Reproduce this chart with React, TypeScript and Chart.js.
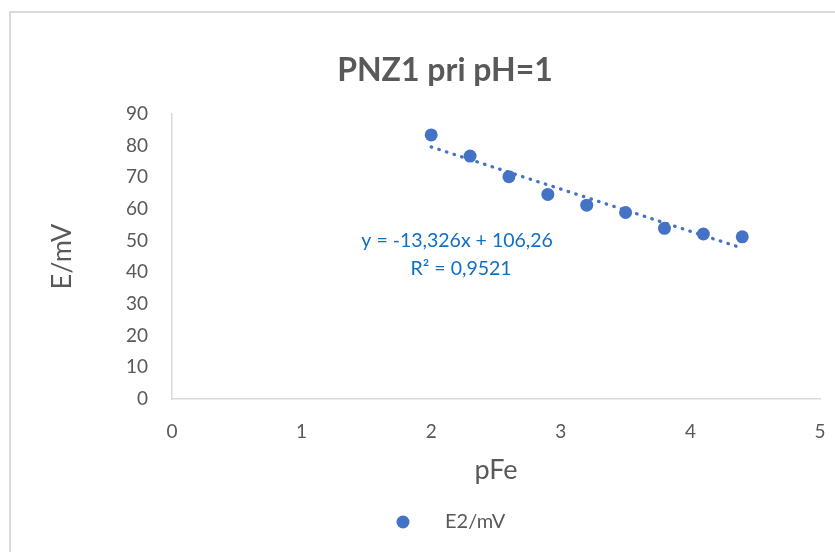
import React, { useEffect, useRef } from "react";
import { Chart, registerables } from "chart.js";

Chart.register(...registerables);

// ---- data ----
const chartTitle = "PNZ1 pri pH=1";
const seriesName = "E2/mV";
const xAxisTitle = "pFe";
const yAxisTitle = "E/mV";
const pFe = [2.0, 2.3, 2.6, 2.9, 3.2, 3.5, 3.8, 4.1, 4.4];
const E2 = [83.4, 76.7, 70.2, 64.6, 61.2, 58.9, 53.9, 52.1, 51.2];
const trendX = [2.0, 4.4];
const trendY = [79.61, 47.63];
const equationLines = ["y = -13,326x + 106,26", "R² = 0,9521"];
const xMin = 0;
const xMax = 5;
const xStep = 1;
const yMin = 0;
const yMax = 90;
const yStep = 10;

// label anchor (data coordinates) for the trendline equation
const eqAnchor = { x: 2.2, y: 50 };

const W = 868;
const H = 545;
const FONT = "Lato, 'Open Sans', 'DejaVu Sans', sans-serif";
const TEXT = "#595959";
const BLUE = "#4472C4";
const EQ_BLUE = "#0F6FC6";

const titlePlugin = {
  id: "centeredTitle",
  afterDraw(chart: any) {
    const { ctx } = chart;
    ctx.save();
    ctx.font = `bold 32px ${FONT}`;
    ctx.fillStyle = TEXT;
    ctx.textAlign = "center";
    ctx.textBaseline = "middle";
    ctx.fillText(chartTitle, chart.width / 2, 58);
    ctx.restore();
  },
};

const equationPlugin = {
  id: "equationLabel",
  afterDatasetsDraw(chart: any) {
    const { ctx, scales } = chart;
    const cx = scales.x.getPixelForValue(eqAnchor.x);
    const cy = scales.y.getPixelForValue(eqAnchor.y);
    ctx.save();
    ctx.font = `19.5px ${FONT}`;
    ctx.fillStyle = EQ_BLUE;
    ctx.textAlign = "center";
    ctx.textBaseline = "middle";
    ctx.fillText(equationLines[0], cx, cy);
    ctx.fillText(equationLines[1], cx + 4, cy + 28);
    ctx.restore();
  },
};

const legendPlugin = {
  id: "bottomLegend",
  afterDraw(chart: any) {
    const { ctx } = chart;
    const mid = chart.width / 2;
    const y = 509;
    ctx.save();
    ctx.fillStyle = BLUE;
    ctx.beginPath();
    ctx.arc(mid - 42, y, 6.5, 0, Math.PI * 2);
    ctx.fill();
    ctx.font = `20px ${FONT}`;
    ctx.fillStyle = TEXT;
    ctx.textAlign = "left";
    ctx.textBaseline = "middle";
    ctx.fillText(seriesName, mid, y);
    ctx.restore();
  },
};

export default function App() {
  const canvasRef = useRef<HTMLCanvasElement | null>(null);

  useEffect(() => {
    const canvas = canvasRef.current;
    if (!canvas) return;
    const chart = new Chart(canvas, {
      type: "scatter",
      data: {
        datasets: [
          {
            type: "line",
            label: "trend",
            data: trendX.map((x, i) => ({ x, y: trendY[i] })),
            borderColor: BLUE,
            borderWidth: 3.3,
            borderDash: [0.5, 7.5],
            borderCapStyle: "round",
            pointRadius: 0,
            fill: false,
            order: 2,
          } as any,
          {
            label: seriesName,
            data: pFe.map((x, i) => ({ x, y: E2[i] })),
            backgroundColor: BLUE,
            borderColor: BLUE,
            borderWidth: 0,
            pointRadius: 6.5,
            pointHoverRadius: 6.5,
            order: 1,
          },
        ],
      },
      options: {
        responsive: false,
        animation: false,
        devicePixelRatio: 1,
        layout: { padding: { left: 0, right: 59, top: 101, bottom: 0 } },
        plugins: {
          legend: { display: false },
          tooltip: { enabled: false },
          title: { display: false },
        },
        scales: {
          x: {
            type: "linear",
            min: xMin,
            max: xMax,
            grid: { display: false, drawTicks: false },
            border: { display: true, color: "#d9d9d9", width: 1.5 },
            ticks: {
              stepSize: xStep,
              color: TEXT,
              font: { family: FONT, size: 19 },
              padding: 21,
            },
            title: {
              display: true,
              text: xAxisTitle,
              color: TEXT,
              font: { family: FONT, size: 27 },
              padding: 72,
            },
            afterFit(scale: any) {
              scale.height = 159;
            },
          },
          y: {
            type: "linear",
            min: yMin,
            max: yMax,
            grid: { display: false, drawTicks: false },
            border: { display: true, color: "#d9d9d9", width: 1.5 },
            ticks: {
              stepSize: yStep,
              color: TEXT,
              font: { family: FONT, size: 19 },
              padding: 24,
            },
            title: {
              display: true,
              text: yAxisTitle,
              color: TEXT,
              font: { family: FONT, size: 27 },
              padding: 35,
            },
            afterFit(scale: any) {
              scale.width = 161;
            },
          },
        },
      },
      plugins: [titlePlugin, equationPlugin, legendPlugin],
    });
    return () => chart.destroy();
  }, []);

  return (
    <div
      style={{
        position: "absolute",
        left: 0,
        top: 0,
        width: 835,
        height: 552,
        overflow: "hidden",
        background: "#ffffff",
      }}
    >
      <div
        style={{
          position: "absolute",
          left: 9,
          top: 11,
          width: W,
          height: H,
          border: "2px solid #d9d9d9",
          background: "#ffffff",
        }}
      >
        <canvas ref={canvasRef} width={W} height={H} style={{ display: "block", width: W, height: H }} />
      </div>
    </div>
  );
}
